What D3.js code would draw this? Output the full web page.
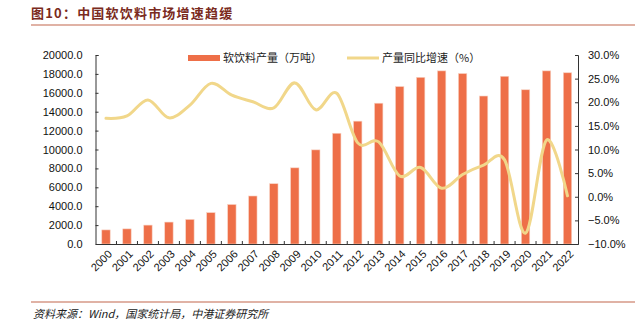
<!DOCTYPE html>
<html>
<head>
<meta charset="utf-8">
<script src="https://cdn.jsdelivr.net/npm/d3@7"></script>
<style>
  body { margin: 0; background: #fff; }
  svg { display: block; font-family: "Liberation Sans", Arial, "Noto Sans CJK SC", sans-serif; }
</style>
</head>
<body>
<div id="chart"></div>
<script>
// soft drink output (10k tonnes) and yoy growth (%)
const years = ['2000','2001','2002','2003','2004','2005','2006','2007','2008','2009','2010','2011',
               '2012','2013','2014','2015','2016','2017','2018','2019','2020','2021','2022'];
const output = [1490, 1600, 2000, 2320, 2600, 3320, 4180, 5080, 6380, 8060, 9960, 11720,
                13000, 14900, 16660, 17640, 18320, 18040, 15660, 17750, 16320, 18320, 18120];
const growth = [16.6, 17.1, 20.5, 16.7, 19.4, 24.0, 21.5, 20.1, 18.8, 24.1, 18.4, 21.9,
                11.4, 11.6, 4.4, 6.2, 1.8, 4.7, 6.7, 7.8, -7.7, 12.0, 0.2];
const leftTicks = [0, 2000, 4000, 6000, 8000, 10000, 12000, 14000, 16000, 18000, 20000];
const rightTicks = [-10, -5, 0, 5, 10, 15, 20, 25, 30];

const W = 635, H = 329;
const plot = { left: 95.5, right: 578, top: 55, bottom: 244 };
const barColor = '#ee6f48', lineColor = '#f1d78a', axisColor = '#333';

const svg = d3.select('#chart').append('svg')
  .attr('width', W).attr('height', H);

// title and rules
svg.append('text')
  .attr('x', 31).attr('y', 18)
  .attr('font-family', '"Noto Sans CJK SC", sans-serif')
  .attr('font-weight', 'bold').attr('font-size', 13)
  .attr('letter-spacing', 1.2)
  .attr('fill', '#7a2a20')
  .text('图10：中国软饮料市场增速趋缓');
svg.append('line')
  .attr('x1', 31).attr('x2', W).attr('y1', 25).attr('y2', 25)
  .attr('stroke', '#c2674c').attr('stroke-width', 1.2);
svg.append('line')
  .attr('x1', 31).attr('x2', W).attr('y1', 302).attr('y2', 302)
  .attr('stroke', '#c2674c').attr('stroke-width', 1.2);
svg.append('text')
  .attr('x', 33).attr('y', 318)
  .attr('font-family', '"Noto Sans CJK SC", sans-serif')
  .attr('font-style', 'italic').attr('font-size', 11)
  .attr('fill', '#222')
  .text('资料来源：Wind，国家统计局，中港证券研究所');

// scales
const x = d3.scaleBand().domain(years).range([plot.left, plot.right]).paddingInner(0).paddingOuter(0);
const yL = d3.scaleLinear().domain([0, 20000]).range([plot.bottom, plot.top]);
const yR = d3.scaleLinear().domain([-10, 30]).range([plot.bottom, plot.top]);
const barW = 8.4;

// bars
svg.append('g').selectAll('rect')
  .data(output)
  .join('rect')
  .attr('x', (d, i) => x(years[i]) + x.bandwidth() / 2 - barW / 2)
  .attr('y', d => yL(d))
  .attr('width', barW)
  .attr('height', d => yL(0) - yL(d))
  .attr('fill', barColor)
  .attr('stroke', '#f8d3c4').attr('stroke-width', 0.6);

// smoothed growth line
const line = d3.line()
  .x((d, i) => x(years[i]) + x.bandwidth() / 2)
  .y(d => yR(d))
  .curve(d3.curveCardinal.tension(0));
svg.append('path')
  .datum(growth)
  .attr('d', line)
  .attr('fill', 'none')
  .attr('stroke', lineColor)
  .attr('stroke-width', 3)
  .attr('stroke-linecap', 'round');

// left axis
const axL = svg.append('g')
  .attr('transform', `translate(${plot.left},0)`)
  .call(d3.axisLeft(yL).tickValues(leftTicks).tickSize(-3).tickPadding(13)
    .tickFormat(d => d3.format('.1f')(d)));
// right axis
const axR = svg.append('g')
  .attr('transform', `translate(${plot.right},0)`)
  .call(d3.axisRight(yR).tickValues(rightTicks).tickSize(-3).tickPadding(10)
    .tickFormat(d => d3.format('.1f')(d) + '%'));
// x axis with ticks at band edges
const axX = svg.append('g')
  .attr('transform', `translate(0,${plot.bottom})`)
  .call(d3.axisBottom(x).tickSize(0).tickPadding(0));
axX.selectAll('.tick text')
  .attr('text-anchor', 'end')
  .attr('transform', 'translate(4,8) rotate(-45)')
  .attr('dy', '0.35em');
axX.append('g').selectAll('line')
  .data(years.slice(1))
  .join('line')
  .attr('x1', d => x(d)).attr('x2', d => x(d))
  .attr('y1', 0).attr('y2', -3)
  .attr('stroke', axisColor);

[axL, axR, axX].forEach(ax => {
  ax.selectAll('.domain').attr('stroke', axisColor);
  ax.selectAll('.tick line').attr('stroke', axisColor);
  ax.selectAll('.tick text').attr('font-size', 11).attr('fill', '#111')
    .attr('font-family', '"Liberation Sans", Arial, sans-serif');
});

// legend
const lg = svg.append('g').attr('font-family', '"Noto Sans CJK SC", sans-serif').attr('font-size', 11).attr('fill', '#222');
lg.append('rect').attr('x', 188).attr('y', 55).attr('width', 32).attr('height', 6).attr('fill', barColor);
lg.append('text').attr('x', 223).attr('y', 62).attr('fill', '#222').text('软饮料产量（万吨）');
lg.append('line').attr('x1', 347).attr('x2', 379).attr('y1', 58).attr('y2', 58)
  .attr('stroke', lineColor).attr('stroke-width', 3);
lg.append('text').attr('x', 382).attr('y', 62).attr('fill', '#222').text('产量同比增速（%）');
</script>
</body>
</html>
